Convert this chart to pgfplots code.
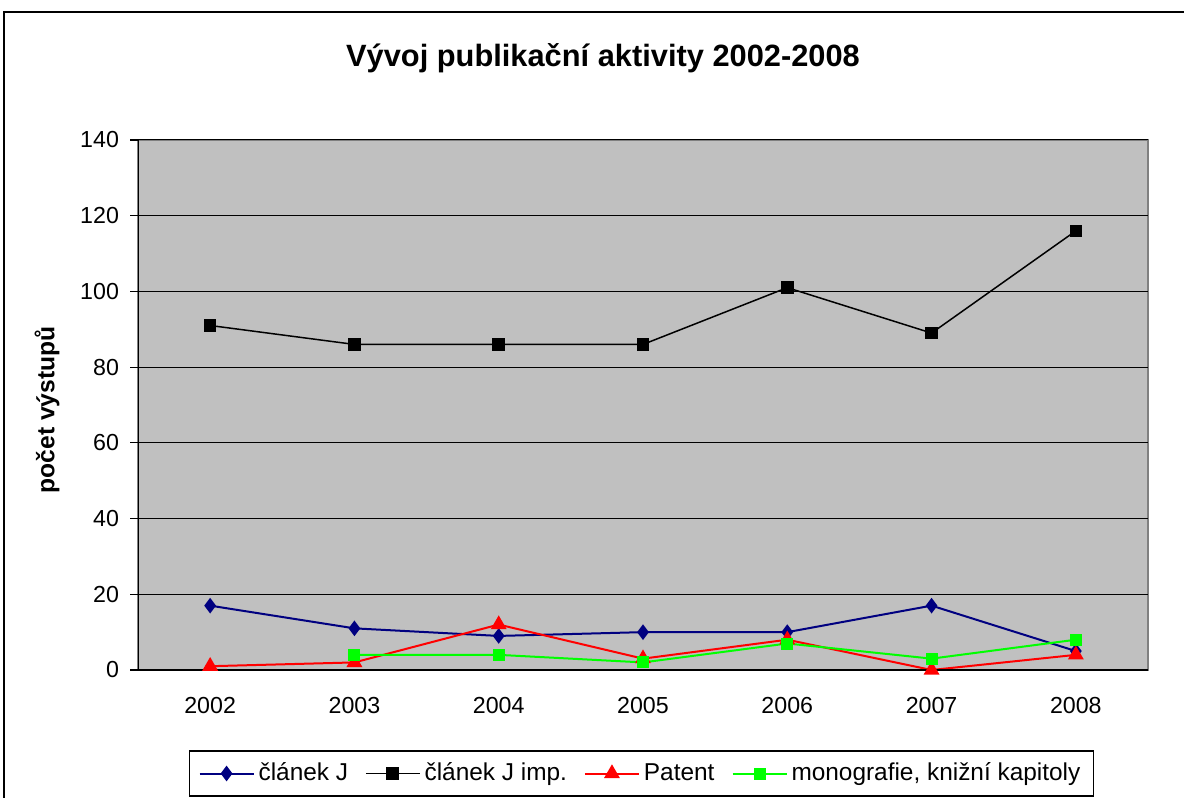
\documentclass[border=0pt]{standalone}
\usepackage{fontspec}
\setmainfont{Liberation Sans}
\usepackage{pgfplots}
\pgfplotsset{compat=1.18}

\definecolor{plotgray}{RGB}{192,192,192}
\definecolor{framegray}{RGB}{128,128,128}
\definecolor{navyblue}{RGB}{0,0,128}
\definecolor{brightgreen}{RGB}{0,255,0}

\pgfplotsset{
    LineStyle/.style={line width=1pt},
    ClanekJ-LineStyle/.style={LineStyle, color=navyblue, mark=diamond*, mark size=3.1pt},
    ClanekJImp-LineStyle/.style={LineStyle, line width=0.75pt, color=black, mark=square*, mark size=2.8pt},
    Patent-LineStyle/.style={LineStyle, color=red, mark=triangle*, mark size=3.6pt},
    Monografie-LineStyle/.style={LineStyle, color=brightgreen, mark=square*, mark size=2.5pt},
}

\begin{document}
\begin{tikzpicture}[x=1pt,y=1pt]
    \begin{axis}[
        at={(69pt,64pt)}, anchor=south west,
        width=505pt, height=265pt, scale only axis,
        xmin=-0.5, xmax=6.5, ymin=0, ymax=140,
        xtick={0,...,6},
        xticklabels={2002,2003,2004,2005,2006,2007,2008},
        xtick style={draw=none},
        minor xtick={-0.5,0.5,...,6.5},
        ytick={0,20,...,140},
        xtick pos=bottom, ytick pos=left,
        tick align=outside,
        major tick length=4pt, minor tick length=4pt,
        every tick/.style={black, line width=0.6pt},
        minor x tick style={black, line width=0.6pt},
        ymajorgrids=true,
        grid style={black, line width=0.5pt},
        axis line style={draw=none},
        axis background/.style={fill=plotgray, draw=framegray, line width=1pt},
        ticklabel style={font=\fontsize{11.6}{14}\selectfont},
        /pgf/number format/assume math mode=true,
        yticklabel style={xshift=-2pt},
        xticklabel style={yshift=-6pt},
        legend style={
            at={(axis description cs:0.4985,-0.1953)}, anchor=center,
            draw=black, line width=0.6pt, fill=white,
            font=\fontsize{12.2}{14}\selectfont,
            inner xsep=4.5pt, inner ysep=4pt,
            /tikz/every even column/.append style={column sep=6.5pt},
        },
        legend columns=4,
        legend image code/.code={
            \draw[mark repeat=2, mark phase=2, #1]
                plot coordinates {(0pt,0pt) (13.5pt,0pt) (27pt,0pt)};
        },
    ]
        \addplot[ClanekJ-LineStyle] coordinates {(0,17) (1,11) (2,9) (3,10) (4,10) (5,17) (6,5)};
        \addlegendentry{článek J}
        \addplot[ClanekJImp-LineStyle] coordinates {(0,91) (1,86) (2,86) (3,86) (4,101) (5,89) (6,116)};
        \addlegendentry{článek J imp.}
        \addplot[Patent-LineStyle] coordinates {(0,1) (1,2) (2,12) (3,3) (4,8) (5,0) (6,4)};
        \addlegendentry{Patent}
        \addplot[Monografie-LineStyle] coordinates {(1,4) (2,4) (3,2) (4,7) (5,3) (6,8)};
        \addlegendentry{monografie, knižní kapitoly}

        % axis lines on the left and bottom only, the rest is the gray frame
        \draw[black, line width=1pt] (rel axis cs:0,1) -- (rel axis cs:0,0) -- (rel axis cs:1,0);
    \end{axis}

    \node[font=\bfseries\fontsize{15.4}{18}\selectfont] at (301.5pt,370pt) {Vývoj publikační aktivity 2002-2008};
    \node[font=\bfseries\fontsize{12.3}{14}\selectfont, rotate=90] at (23.5pt,194pt) {počet výstupů};

    % outer chart frame, cut off at the right and bottom like the reference
    \draw[black, line width=0.8pt] (2pt,-20pt) -- (2pt,393pt) -- (620pt,393pt);

    \pgfresetboundingbox
    \useasboundingbox (0,0) rectangle (592pt,399pt);
\end{tikzpicture}
\end{document}
